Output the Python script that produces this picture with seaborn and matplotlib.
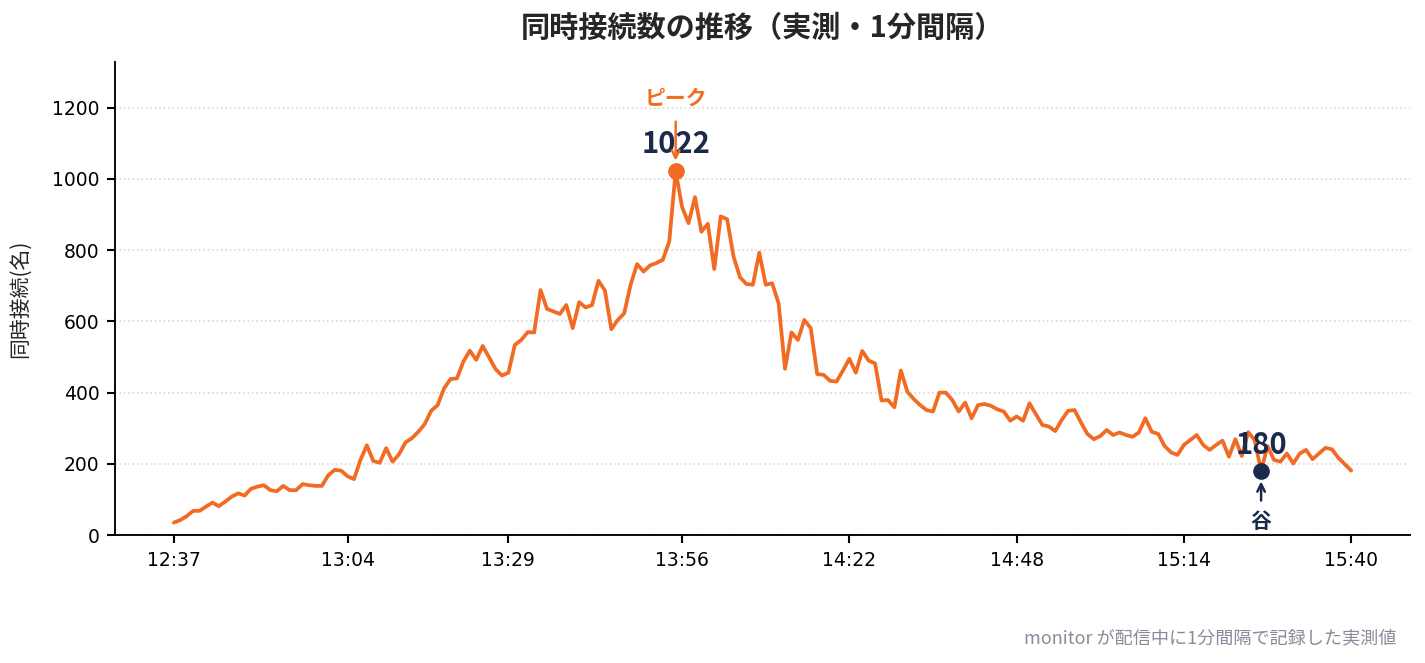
import pandas as pd
import matplotlib
matplotlib.use("Agg")
import matplotlib.pyplot as plt
import matplotlib.dates as mdates
import seaborn as sns

# === Datos (1 minuto de intervalo, desde 12:37) ===
start_time = "2024-01-01 12:37"
concurrent = [
    35, 42, 53, 68, 68, 80, 91, 81, 94, 108,
    117, 111, 130, 136, 140, 126, 123, 138, 126, 126,
    143, 140, 138, 138, 168, 183, 181, 165, 157, 211,
    252, 208, 203, 244, 206, 227, 260, 272, 290, 312,
    349, 365, 412, 438, 440, 487, 518, 492, 531, 499,
    466, 448, 456, 534, 548, 570, 569, 688, 635, 628,
    621, 646, 581, 654, 639, 646, 714, 687, 578, 604,
    623, 703, 761, 740, 757, 764, 773, 824, 1022, 921,
    876, 949, 852, 874, 747, 895, 887, 782, 724, 705,
    703, 793, 703, 707, 651, 467, 569, 548, 604, 581,
    452, 450, 433, 431, 462, 495, 456, 517, 490, 482,
    378, 379, 359, 462, 403, 382, 365, 351, 347, 400,
    400, 379, 347, 372, 328, 365, 368, 363, 353, 347,
    321, 333, 321, 370, 339, 309, 305, 292, 323, 349,
    351, 316, 284, 269, 278, 295, 281, 288, 281, 276,
    288, 328, 290, 284, 250, 232, 225, 253, 267, 281,
    253, 239, 253, 265, 220, 269, 222, 289, 267, 180,
    250, 211, 206, 229, 201, 229, 239, 213, 229, 245,
    241, 217, 199, 181,
]
tick_labels = ["12:37", "13:04", "13:29", "13:56", "14:22", "14:48", "15:14", "15:40"]
y_ticks = [0, 200, 400, 600, 800, 1000, 1200]

title = "同時接続数の推移（実測・1分間隔）"
y_label = "同時接続(名)"
footer = "monitor が配信中に1分間隔で記録した実測値"
peak_label = "ピーク"
valley_label = "谷"

orange = "#F26B22"
navy = "#1B2A4A"

df = pd.DataFrame({
    "time": pd.date_range(start_time, periods=len(concurrent), freq="min"),
    "value": concurrent,
})

# === Estilo ===
sns.set_style("white")
plt.rcParams["font.family"] = ["Noto Sans CJK JP", "DejaVu Sans"]

fig = plt.figure(figsize=(9.5, 4.42), dpi=150)
ax = fig.add_axes([0.0807, 0.193, 0.9088, 0.7135])

sns.lineplot(data=df, x="time", y="value", color=orange, linewidth=1.8, ax=ax)

# pico y valle
i_peak = df["value"].idxmax()
i_low = 169
px, py = df.loc[i_peak, "time"], df.loc[i_peak, "value"]
vx, vy = df.loc[i_low, "time"], df.loc[i_low, "value"]

ax.plot([px], [py], "o", color=orange, markersize=7, zorder=5)
ax.plot([vx], [vy], "o", color=navy, markersize=7, zorder=5)

ax.annotate(str(py), xy=(px, py), xytext=(0, 27), textcoords="offset pixels",
            ha="center", va="center", fontsize=14, fontweight="bold", color=navy)
ax.annotate(peak_label, xy=(px, py), xytext=(0, 73), textcoords="offset pixels",
            ha="center", va="center", fontsize=10, fontweight="bold", color=orange,
            arrowprops=dict(arrowstyle="->", color=orange, lw=1.2,
                            shrinkA=4, shrinkB=5, mutation_scale=9))

ax.annotate(str(vy), xy=(vx, vy), xytext=(0, 26), textcoords="offset pixels",
            ha="center", va="center", fontsize=14, fontweight="bold", color=navy)
ax.annotate(valley_label, xy=(vx, vy), xytext=(0, -51), textcoords="offset pixels",
            ha="center", va="center", fontsize=10, fontweight="bold", color=navy,
            arrowprops=dict(arrowstyle="->", color=navy, lw=1.2,
                            shrinkA=3, shrinkB=5, mutation_scale=9))

# === Ejes ===
tick_times = [pd.Timestamp(start_time[:11] + t) for t in tick_labels]
ax.set_xticks(tick_times)
ax.xaxis.set_major_formatter(mdates.DateFormatter("%H:%M"))
ax.set_yticks(y_ticks)
ax.set_ylim(0, max(concurrent) * 1.3)
ax.tick_params(axis="both", labelsize=9, length=4, width=1, direction="out",
               left=True, bottom=True, colors="black")
for lab in ax.get_xticklabels() + ax.get_yticklabels():
    lab.set_fontfamily("DejaVu Sans")
ax.set_xlabel("")
ax.set_ylabel(y_label, fontsize=10, labelpad=10)
ax.grid(True, axis="y", linestyle=":", linewidth=0.8, color="#d8d8d8")
ax.grid(False, axis="x")
sns.despine(ax=ax)
for s in ["left", "bottom"]:
    ax.spines[s].set_color("black")
    ax.spines[s].set_linewidth(0.9)

fig.text(0.535, 0.958, title, ha="center", va="center", fontsize=14, fontweight="bold")
fig.text(0.98, 0.038, footer, ha="right", va="center", fontsize=8.7, color="#8A8A9A")

fig.savefig("out.png", dpi=150)
